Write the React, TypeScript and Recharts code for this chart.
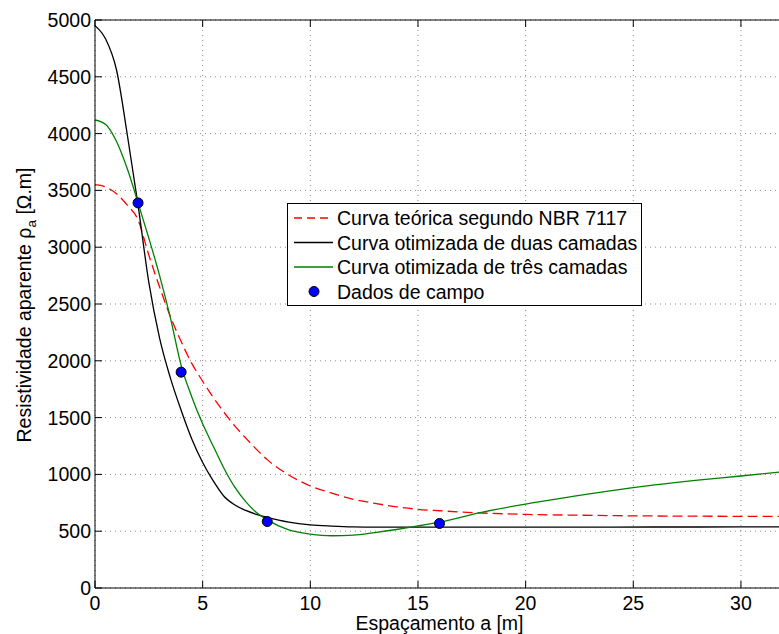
import React from "react";
import { ComposedChart, Line, Scatter, XAxis, YAxis, CartesianGrid, ReferenceLine } from "recharts";

const spacing = [0, 0.5, 1, 1.5, 2, 2.5, 3, 3.5, 4, 4.5, 5, 5.5, 6, 6.5, 7, 7.5, 8, 9, 10, 11, 12, 13, 14, 15, 16, 18, 20, 22, 24, 26, 28, 30, 32];

// apparent resistivity [ohm.m]
const nbrCurve = [3550, 3530, 3470, 3370, 3240, 2930, 2650, 2390, 2170, 1975, 1820, 1675, 1545, 1425, 1320, 1220, 1130, 995, 898, 835, 781, 745, 715, 693, 680, 660, 648, 642, 637, 634, 632, 631, 630];
const twoLayerCurve = [4950, 4830, 4560, 3990, 3370, 2690, 2200, 1850, 1565, 1310, 1105, 940, 805, 730, 683, 648, 622, 580, 556, 545, 538, 536, 535, 535, 535, 535, 535, 536, 536, 537, 537, 538, 538];
const threeLayerCurve = [4120, 4080, 3930, 3690, 3390, 3080, 2750, 2380, 1960, 1680, 1445, 1245, 1050, 885, 760, 665, 600, 512, 475, 460, 465, 488, 515, 546, 580, 668, 739, 800, 858, 908, 950, 986, 1025];

// field measurements
const fieldSpacing = [2, 4, 8, 16];
const fieldValues = [3390, 1900, 585, 568];

const xTicks = [0, 5, 10, 15, 20, 25, 30];
const yTicks = [0, 500, 1000, 1500, 2000, 2500, 3000, 3500, 4000, 4500, 5000];

const FONT = '"Liberation Sans", Arial, Helvetica, sans-serif';
const FS = 19.5;
const PLOT_TOP = 20;
const PLOT_BOTTOM = 588;
const PLOT_LEFT = 95;

const toSeries = (vals: number[]) => spacing.map((x, i) => ({ x, v: vals[i] }));
const nbrData = toSeries(nbrCurve);
const twoLayerData = toSeries(twoLayerCurve);
const threeLayerData = toSeries(threeLayerCurve);
const fieldData = fieldSpacing.map((x, i) => ({ x, v: fieldValues[i] }));

function XTick(props: any) {
  const { x, payload } = props;
  return (
    <g>
      <line x1={x} x2={x} y1={PLOT_BOTTOM} y2={PLOT_BOTTOM - 7} stroke="#000" />
      <line x1={x} x2={x} y1={PLOT_TOP} y2={PLOT_TOP + 7} stroke="#000" />
      <text x={x} y={610} textAnchor="middle" fontSize={FS} fontFamily={FONT} fill="#000">
        {payload.value}
      </text>
    </g>
  );
}

function YTick(props: any) {
  const { y, payload } = props;
  return (
    <g>
      <line x1={PLOT_LEFT} x2={PLOT_LEFT + 7} y1={y} y2={y} stroke="#000" />
      <text x={91} y={y + 7} textAnchor="end" fontSize={FS} fontFamily={FONT} fill="#000">
        {payload.value}
      </text>
    </g>
  );
}

const legendRows = [
  { label: "Curva teórica segundo NBR 7117", color: "#ff0000", dash: "8 5", kind: "line" },
  { label: "Curva otimizada de duas camadas", color: "#000000", dash: undefined, kind: "line" },
  { label: "Curva otimizada de três camadas", color: "#008000", dash: undefined, kind: "line" },
  { label: "Dados de campo", color: "#0000ff", dash: undefined, kind: "dot" },
];

function LegendBox() {
  return (
    <div
      style={{
        position: "absolute",
        left: 287,
        top: 203,
        width: 355,
        height: 103,
        boxSizing: "border-box",
        border: "1px solid #000",
        background: "#fff",
      }}
    >
      <svg width={353} height={101} style={{ display: "block" }}>
        {legendRows.map((r, i) => {
          const cy = 14 + i * 24.5;
          return (
            <g key={r.label}>
              {r.kind === "line" ? (
                <line x1={6} x2={45} y1={cy} y2={cy} stroke={r.color} strokeWidth={1.3} strokeDasharray={r.dash} />
              ) : (
                <circle cx={26} cy={cy} r={5} fill={r.color} stroke="#000" />
              )}
              <text x={49} y={cy + 7} fontSize={FS} fontFamily={FONT} fill="#000">
                {r.label}
              </text>
            </g>
          );
        })}
      </svg>
    </div>
  );
}

export default function App() {
  return (
    <div style={{ position: "absolute", left: 0, top: 0, width: 779, height: 634, overflow: "hidden", background: "#fff" }}>
      <ComposedChart width={800} height={634} margin={{ top: PLOT_TOP, right: 16, bottom: 0, left: 0 }}>
        <CartesianGrid stroke="#8a8a8a" strokeDasharray="1 4" />
        <XAxis
          type="number"
          dataKey="x"
          domain={[0, 32]}
          ticks={xTicks}
          allowDataOverflow
          height={46}
          tickSize={0}
          tickLine={false}
          axisLine={{ stroke: "#000" }}
          tick={<XTick />}
          label={{
            content: () => (
              <text x={439.5} y={630} textAnchor="middle" fontSize={FS} fontFamily={FONT} fill="#000">
                Espaçamento a [m]
              </text>
            ),
          }}
        />
        <YAxis
          type="number"
          dataKey="v"
          domain={[0, 5000]}
          ticks={yTicks}
          allowDataOverflow
          width={PLOT_LEFT}
          tickSize={0}
          tickLine={false}
          axisLine={{ stroke: "#000" }}
          tick={<YTick />}
          label={{
            content: () => (
              <text transform="translate(31,305) rotate(-90)" textAnchor="middle" fontSize={FS} fontFamily={FONT} fill="#000">
                Resistividade aparente ρ
                <tspan fontSize={FS * 0.7} dy={5}>a</tspan>
                <tspan dy={-5}> [Ω.m]</tspan>
              </text>
            ),
          }}
        />
        <ReferenceLine y={5000} stroke="#000" />
        <Line data={nbrData} dataKey="v" type="monotone" stroke="#ff0000" strokeWidth={1.3} strokeDasharray="10 5" dot={false} isAnimationActive={false} />
        <Line data={twoLayerData} dataKey="v" type="monotone" stroke="#000000" strokeWidth={1.3} dot={false} isAnimationActive={false} />
        <Line data={threeLayerData} dataKey="v" type="monotone" stroke="#008000" strokeWidth={1.3} dot={false} isAnimationActive={false} />
        <Scatter
          data={fieldData}
          dataKey="v"
          isAnimationActive={false}
          shape={(p: any) => <circle cx={p.cx} cy={p.cy} r={5} fill="#0000ff" stroke="#000" strokeWidth={1} />}
        />
      </ComposedChart>
      <LegendBox />
    </div>
  );
}
